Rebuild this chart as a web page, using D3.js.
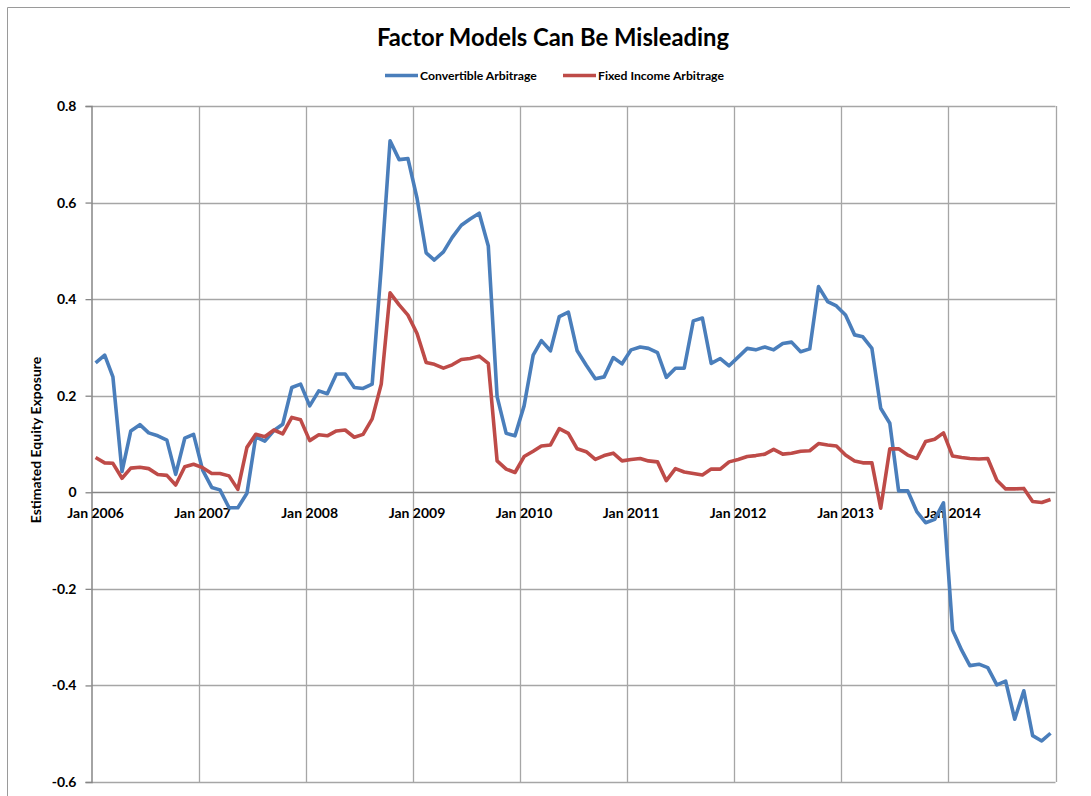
<!DOCTYPE html>
<html>
<head>
<meta charset="utf-8">
<script src="https://cdn.jsdelivr.net/npm/d3@7"></script>
<style>
	body { margin: 0; background: #fff; }
	svg { display: block; font-family: Lato, "Open Sans", sans-serif; }
</style>
</head>
<body>
<svg id="chart" width="1091" height="796"></svg>
<script>
// monthly estimates, Jan 2006 .. Dec 2014
let convertibleArb = [
	0.268, 0.284, 0.239, 0.043, 0.127, 0.140, 0.123, 0.117, 0.108, 0.037, 0.112, 0.120,
	0.046, 0.010, 0.005, -0.032, -0.032, -0.002, 0.115, 0.106, 0.128, 0.141, 0.217, 0.224,
	0.179, 0.210, 0.204, 0.245, 0.245, 0.217, 0.215, 0.224, 0.466, 0.728, 0.689, 0.691,
	0.609, 0.496, 0.481, 0.498, 0.528, 0.553, 0.566, 0.578, 0.510, 0.198, 0.122, 0.117,
	0.179, 0.284, 0.314, 0.293, 0.364, 0.373, 0.293, 0.263, 0.235, 0.239, 0.279, 0.266,
	0.295, 0.301, 0.298, 0.289, 0.238, 0.257, 0.257, 0.355, 0.361, 0.267, 0.277, 0.262,
	0.280, 0.298, 0.295, 0.301, 0.295, 0.308, 0.311, 0.291, 0.297, 0.426, 0.395, 0.386,
	0.367, 0.326, 0.322, 0.298, 0.174, 0.143, 0.003, 0.003, -0.040, -0.063, -0.056, -0.022,
	-0.285, -0.327, -0.359, -0.356, -0.363, -0.399, -0.391, -0.470, -0.411, -0.504, -0.515, -0.499
];

let fixedIncomeArb = [
	0.072, 0.061, 0.060, 0.029, 0.050, 0.052, 0.049, 0.037, 0.035, 0.015, 0.053, 0.058,
	0.051, 0.039, 0.039, 0.034, 0.006, 0.093, 0.120, 0.115, 0.129, 0.121, 0.155, 0.150,
	0.107, 0.119, 0.117, 0.127, 0.129, 0.114, 0.120, 0.152, 0.224, 0.413, 0.388, 0.367,
	0.329, 0.269, 0.265, 0.257, 0.264, 0.275, 0.277, 0.282, 0.267, 0.065, 0.048, 0.041,
	0.074, 0.085, 0.096, 0.098, 0.132, 0.122, 0.090, 0.084, 0.068, 0.076, 0.081, 0.065,
	0.068, 0.070, 0.065, 0.063, 0.024, 0.049, 0.042, 0.039, 0.036, 0.048, 0.048, 0.063,
	0.068, 0.074, 0.076, 0.079, 0.089, 0.079, 0.081, 0.085, 0.086, 0.101, 0.098, 0.096,
	0.077, 0.065, 0.061, 0.061, -0.033, 0.090, 0.090, 0.077, 0.070, 0.105, 0.110, 0.123,
	0.075, 0.072, 0.070, 0.069, 0.070, 0.025, 0.007, 0.007, 0.008, -0.019, -0.021, -0.015
];

let seriesNames = ["Convertible Arbitrage", "Fixed Income Arbitrage"];
let seriesColors = ["#4a7ebb", "#be4b48"];
let yTicks = [0.8, 0.6, 0.4, 0.2, 0, -0.2, -0.4, -0.6];
let yearLabels = ["Jan 2006", "Jan 2007", "Jan 2008", "Jan 2009", "Jan 2010",
	"Jan 2011", "Jan 2012", "Jan 2013", "Jan 2014"];

// one point per month, drawn around mid-month
let months = d3.timeMonth.range(new Date(2006, 0, 1), new Date(2015, 0, 1))
	.map(function(d) { return d3.timeDay.offset(d, 14); });

let svg = d3.select("#chart");

let plotLeft = 91.5, plotRight = 1055.5, plotTop = 106, plotBottom = 782;

let x = d3.scaleTime()
	.domain([new Date(2006, 0, 1), new Date(2015, 0, 1)])
	.range([plotLeft, plotRight]);

let y = d3.scaleLinear()
	.domain([-0.6, 0.8])
	.range([plotBottom, plotTop]);

// outer chart frame (only top/left show in the crop)
svg.append("path")
	.attr("d", "M7.5,800V7.5H1070")
	.attr("fill", "none")
	.attr("stroke", "#9a9a9a")
	.attr("stroke-width", 1);

function drawGrid() {
	let years = d3.timeYear.range(new Date(2007, 0, 1), new Date(2015, 0, 2));

	svg.append("g")
		.attr("class", "y-grid")
		.selectAll("line")
		.data(yTicks.filter(function(d) { return d !== 0; }))
		.enter()
		.append("line")
		.attr("x1", plotLeft)
		.attr("x2", plotRight)
		.attr("y1", function(d) { return Math.round(y(d)) + 0.5; })
		.attr("y2", function(d) { return Math.round(y(d)) + 0.5; })
		.attr("stroke", "#a6a6a6")
		.attr("stroke-width", 1.3);

	svg.append("g")
		.attr("class", "x-grid")
		.selectAll("line")
		.data(years)
		.enter()
		.append("line")
		.attr("x1", function(d) { return Math.round(x(d)) + 0.5; })
		.attr("x2", function(d) { return Math.round(x(d)) + 0.5; })
		.attr("y1", plotTop)
		.attr("y2", plotBottom)
		.attr("stroke", "#a6a6a6")
		.attr("stroke-width", 1.3);
}

function drawAxes() {
	// y axis with ticks pointing out
	let yAxis = d3.axisLeft(y)
		.tickValues(yTicks)
		.tickSize(6)
		.tickFormat(function(d) { return d === 0 ? "0" : d.toFixed(1); });

	let yg = svg.append("g")
		.attr("transform", "translate(" + plotLeft + ",0)")
		.call(yAxis);
	yg.select(".domain").attr("stroke", "#868686").attr("stroke-width", 1.5);
	yg.selectAll(".tick line").attr("stroke", "#868686").attr("stroke-width", 1.3);
	yg.selectAll(".tick text")
		.attr("x", -15)
		.attr("font-family", "Lato, sans-serif")
		.attr("font-size", "14px")
		.attr("font-weight", "bold")
		.attr("fill", "#000");

	// x axis sits on the zero line
	svg.append("line")
		.attr("x1", plotLeft)
		.attr("x2", plotRight)
		.attr("y1", Math.round(y(0)) + 0.5)
		.attr("y2", Math.round(y(0)) + 0.5)
		.attr("stroke", "#868686")
		.attr("stroke-width", 1.5);

	svg.append("g")
		.attr("class", "x-labels")
		.selectAll("text")
		.data(yearLabels)
		.enter()
		.append("text")
		.attr("x", function(d, i) { return x(months[i * 12]); })
		.attr("y", y(0) + 26)
		.attr("text-anchor", "middle")
		.attr("font-size", "14px")
		.attr("font-weight", "bold")
		.text(function(d) { return d; });

	svg.append("text")
		.attr("transform", "translate(41," + ((plotTop + plotBottom) / 2 - 4) + ") rotate(-90)")
		.attr("text-anchor", "middle")
		.attr("font-size", "14px")
		.attr("font-weight", "bold")
		.text("Estimated Equity Exposure");
}

function drawLines() {
	let line = d3.line()
		.x(function(d, i) { return x(months[i]); })
		.y(function(d) { return y(d); });

	[convertibleArb, fixedIncomeArb].forEach(function(values, k) {
		svg.append("path")
			.datum(values)
			.attr("fill", "none")
			.attr("stroke", seriesColors[k])
			.attr("stroke-width", 3.6)
			.attr("stroke-linejoin", "round")
			.attr("d", line);
	});
}

function drawTitleAndLegend() {
	svg.append("text")
		.attr("x", 553)
		.attr("y", 46)
		.attr("text-anchor", "middle")
		.attr("font-size", "23.8px")
		.attr("font-weight", "bold")
		.text("Factor Models Can Be Misleading");

	let legendX = [385, 563];
	let legend = svg.append("g").attr("class", "legend");
	seriesNames.forEach(function(name, k) {
		legend.append("line")
			.attr("x1", legendX[k])
			.attr("x2", legendX[k] + 33)
			.attr("y1", 75.5)
			.attr("y2", 75.5)
			.attr("stroke", seriesColors[k])
			.attr("stroke-width", 3.6);
		legend.append("text")
			.attr("x", legendX[k] + 35)
			.attr("y", 79.5)
			.attr("font-size", "12.2px")
			.attr("font-weight", "bold")
			.text(name);
	});
}

drawGrid();
drawAxes();
drawLines();
drawTitleAndLegend();
</script>
</body>
</html>
